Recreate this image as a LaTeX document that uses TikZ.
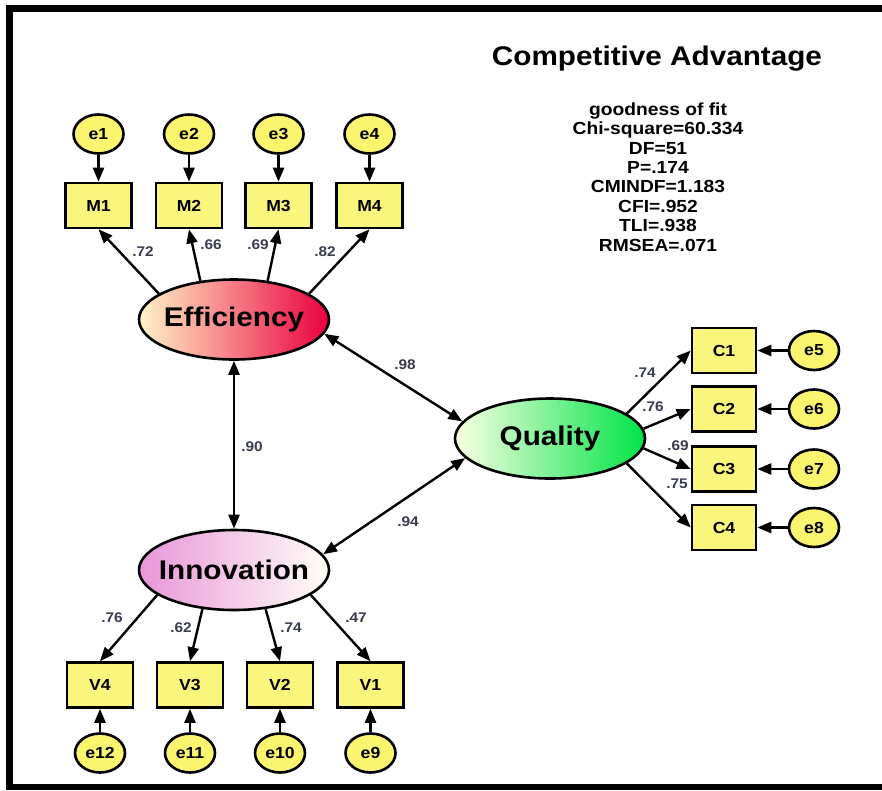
\documentclass[tikz,border=0pt]{standalone}
\usepackage{fontspec}
\setmainfont{Liberation Sans}[FakeStretch=1.1]
\usetikzlibrary{shapes.geometric,arrows.meta,positioning}
\definecolor{boxyellow}{RGB}{250,246,125}
\definecolor{erryellow}{RGB}{250,244,110}
\definecolor{coefgray}{RGB}{55,60,78}
\definecolor{effcream}{RGB}{255,244,200}
\definecolor{effred}{RGB}{235,0,62}
\definecolor{qualpale}{RGB}{250,255,228}
\definecolor{qualgreen}{RGB}{0,228,70}
\definecolor{innopink}{RGB}{232,150,218}
\definecolor{innopeach}{RGB}{254,242,228}
\definecolor{innocream}{RGB}{255,254,246}
\tikzset{
    % Observed indicator style
    indicator/.style={
        rectangle, draw=black, line width=2.6pt, fill=boxyellow,
        minimum width=66pt, minimum height=45pt, inner sep=0pt,
        font=\fontsize{16}{16}\selectfont\bfseries
    },
    % Error term style
    errterm/.style={
        ellipse, draw=black, line width=2.6pt, fill=erryellow,
        minimum width=50pt, minimum height=39pt, inner sep=0pt,
        font=\fontsize{16}{16}\selectfont\bfseries
    },
    % Latent construct style
    latent/.style={
        ellipse, draw=black, line width=2.6pt,
        minimum width=190pt, minimum height=80pt, inner sep=0pt
    },
    latentname/.style={
        font=\fontsize{27}{27}\selectfont\bfseries
    },
    % Coefficient label style
    coef/.style={
        inner sep=0pt, text=coefgray,
        font=\fontsize{14}{14}\selectfont\bfseries
    },
    % Regression and covariance arrows
    regarrow/.style={
        -{Triangle[length=14pt,width=11pt]}, line width=2.4pt
    },
    covarrow/.style={
        {Triangle[length=14pt,width=11pt]}-{Triangle[length=14pt,width=11pt]}, line width=2.4pt
    }
}

\begin{document}
\begin{tikzpicture}[x=1pt,y=-1pt]

\useasboundingbox (0,0) rectangle (882,790);

% Frame
\fill[black] (6,5) rectangle (13,790);
\fill[black] (6,5) rectangle (882,12);
\fill[black] (6,784) rectangle (882,790);

% Title and fit indices
\node[font=\fontsize{27}{27}\selectfont\bfseries] (title) at (657,59) {Competitive Advantage};
\node[align=center, font=\fontsize{17.5}{19.4}\selectfont\bfseries] (fit) at (658,177) {
    goodness of fit\\
    Chi-square=60.334\\
    DF=51\\
    P=.174\\
    CMINDF=1.183\\
    CFI=.952\\
    TLI=.938\\
    RMSEA=.071
};

% Latent constructs
\node[latent, left color=effcream, right color=effred, label={[latentname]center:Efficiency}] (eff) at (234,319.5) {};
\node[latent, left color=qualpale, right color=qualgreen, label={[latentname]center:Quality}] (qual) at (550,438.5) {};
\node[latent, left color=innopink, middle color=innopeach, right color=innocream, label={[latentname]center:Innovation}] (inno) at (234,570) {};

% Efficiency indicators
\node[indicator] (M1) at (98.5,205.5) {M1};
\node[indicator] (M2) at (189,205.5) {M2};
\node[indicator] (M3) at (278.5,205.5) {M3};
\node[indicator] (M4) at (369.5,205.5) {M4};
\node[errterm] (e1) at (98.5,134) {e1};
\node[errterm] (e2) at (189,134) {e2};
\node[errterm] (e3) at (278.5,134) {e3};
\node[errterm] (e4) at (369.5,134) {e4};

% Quality indicators
\node[indicator, minimum width=64pt] (C1) at (724,350.5) {C1};
\node[indicator, minimum width=64pt] (C2) at (724,409) {C2};
\node[indicator, minimum width=64pt] (C3) at (724,469) {C3};
\node[indicator, minimum width=64pt] (C4) at (724,527.5) {C4};
\node[errterm] (e5) at (814,350.5) {e5};
\node[errterm] (e6) at (814,409) {e6};
\node[errterm] (e7) at (814,469) {e7};
\node[errterm] (e8) at (814,527.5) {e8};

% Innovation indicators
\node[indicator] (V4) at (100,685) {V4};
\node[indicator] (V3) at (190,685) {V3};
\node[indicator] (V2) at (280,685) {V2};
\node[indicator] (V1) at (370.5,685) {V1};
\node[errterm] (e12) at (100,753) {e12};
\node[errterm] (e11) at (190,753) {e11};
\node[errterm] (e10) at (280,753) {e10};
\node[errterm] (e9) at (370.5,753) {e9};

% Error arrows
\draw[regarrow] (e1) -- (M1);
\draw[regarrow] (e2) -- (M2);
\draw[regarrow] (e3) -- (M3);
\draw[regarrow] (e4) -- (M4);
\draw[regarrow] (e5) -- (C1);
\draw[regarrow] (e6) -- (C2);
\draw[regarrow] (e7) -- (C3);
\draw[regarrow] (e8) -- (C4);
\draw[regarrow] (e12) -- (V4);
\draw[regarrow] (e11) -- (V3);
\draw[regarrow] (e10) -- (V2);
\draw[regarrow] (e9) -- (V1);

% Loadings
\draw[regarrow] (eff.161) -- (M1.south);
\draw[regarrow] (eff.131) -- (M2.south);
\draw[regarrow] (eff.49) -- (M3.south);
\draw[regarrow] (eff.19) -- (M4.south);
\draw[regarrow] (qual.18) -- (C1.west);
\draw[regarrow] (qual.6) -- (C2.west);
\draw[regarrow] (qual.-6) -- (C3.west);
\draw[regarrow] (qual.-18) -- (C4.west);
\draw[regarrow] (inno.198) -- (V4.north);
\draw[regarrow] (inno.231) -- (V3.north);
\draw[regarrow] (inno.309) -- (V2.north);
\draw[regarrow] (inno.342) -- (V1.north);

% Covariances
\draw[covarrow] (eff) -- (inno);
\draw[covarrow] (eff.-9) -- (qual.169);
\draw[covarrow] (inno.10) -- (qual.193);

% Coefficients
\node[coef] (lm1) at (143,252) {.72};
\node[coef] (lm2) at (211,245) {.66};
\node[coef] (lm3) at (258,245) {.69};
\node[coef] (lm4) at (325,252) {.82};
\node[coef] (lc1) at (645,373) {.74};
\node[coef] (lc2) at (653,407) {.76};
\node[coef] (lc3) at (678,446) {.69};
\node[coef] (lc4) at (677,484) {.75};
\node[coef] (lv4) at (112,618) {.76};
\node[coef] (lv3) at (181,628) {.62};
\node[coef] (lv2) at (291,628) {.74};
\node[coef] (lv1) at (356,618) {.47};
\node[coef] (lei) at (252,447) {.90};
\node[coef] (leq) at (405,365) {.98};
\node[coef] (liq) at (408,522) {.94};

\end{tikzpicture}
\end{document}
